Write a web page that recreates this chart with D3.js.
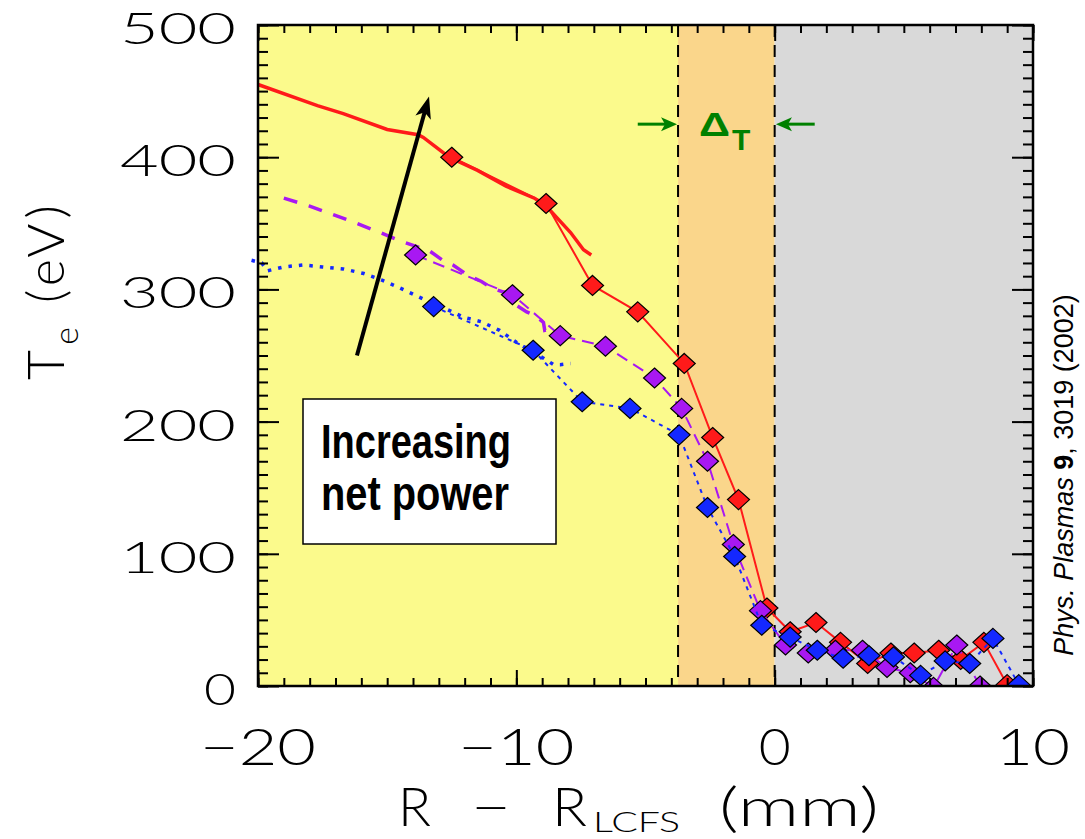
<!DOCTYPE html>
<html>
<head>
<meta charset="utf-8">
<script src="https://cdn.jsdelivr.net/npm/d3@7"></script>
<style>
    body { margin: 0; background: #fff; }
    svg { display: block; }
    .hershey { font-family: Lato, "Open Sans", "DejaVu Sans", sans-serif; font-weight: 300; fill: #000; }
    .boxtext { font-family: "Liberation Sans", Arial, sans-serif; font-weight: bold; }
</style>
</head>
<body>
<div id="chart"></div>
<script>
// axis ranges and labels
const xDomain = [-20, 10];
const yDomain = [0, 500];
const xMajorTicks = [-20, -10, 0, 10];
const yMajorTicks = [0, 100, 200, 300, 400, 500];

// shaded zones: edge of pedestal (delta_T) and LCFS
const zoneEdges = [-20, -3.74, 0, 10];

// thick profiles without markers [R - R_LCFS (mm), Te (eV)]
const redProfile = [[-20.0, 455], [-17.7, 439], [-16.7, 433], [-15.0, 421], [-13.8, 417], [-13.6, 415],
    [-12.6, 400], [-11.5, 390], [-10.4, 378], [-9.3, 369], [-8.8, 362], [-7.9, 343], [-7.4, 330], [-7.1, 326]];
const purpleProfile = [[-19.0, 369], [-18.0, 363], [-16.45, 352], [-15.4, 344], [-14.4, 336], [-13.35, 329],
    [-12.85, 322], [-12.45, 318.5], [-11.9, 311], [-11.35, 306], [-10.95, 301], [-10.5, 298], [-10.0, 288],
    [-9.6, 283], [-9.3, 280.5], [-8.95, 275], [-8.9, 269], [-8.7, 270]];
const blueProfile = [[-20.25, 322], [-19.85, 320], [-19.65, 314], [-19.0, 317], [-18.25, 318.5], [-17.5, 317],
    [-16.7, 315.5], [-15.9, 312], [-15.2, 307], [-14.5, 301], [-13.8, 294.5], [-13.2, 289], [-12.8, 286],
    [-12.05, 279], [-11.35, 275.5], [-10.65, 269], [-10.0, 260], [-9.4, 253], [-8.95, 248], [-8.55, 243],
    [-8.3, 243], [-7.9, 244]];

// measured points (diamonds)
const redPoints = [[-12.5, 400], [-8.85, 365], [-7.05, 303], [-5.3, 283], [-3.5, 244], [-2.4, 188], [-1.4, 141],
    [-0.3, 59], [0.6, 41], [1.6, 48], [2.55, 33], [3.6, 17], [4.5, 25], [5.4, 25], [6.35, 27], [7.2, 20],
    [8.1, 33], [9.0, 1]];
const purplePoints = [[-13.9, 326], [-10.15, 296], [-8.3, 265], [-6.55, 257], [-4.65, 233], [-3.6, 210],
    [-2.6, 170], [-1.6, 107], [-0.55, 57], [0.42, 31], [1.3, 25], [2.35, 27], [3.4, 27], [4.35, 14],
    [5.25, 10], [6.15, -1], [7.05, 31], [7.95, 0]];
const bluePoints = [[-13.2, 287], [-9.35, 254], [-7.45, 215], [-5.6, 210], [-3.7, 190], [-2.6, 135], [-1.55, 98],
    [-0.5, 46], [0.6, 37], [1.65, 27], [2.65, 21], [3.65, 23], [4.6, 22], [5.65, 8], [6.6, 19], [7.55, 17],
    [8.45, 36], [9.45, 1]];

// annotations
const powerArrow = [[-16.17, 250], [-13.38, 446]];
const deltaArrowY = 425;
const deltaArrowLeft = [-5.3, -3.78];
const deltaArrowRight = [1.55, 0.05];

const width = 1085, height = 839;
const plot = {left: 258, top: 25, right: 1033, bottom: 686};

const svg = d3.select("#chart").append("svg")
    .attr("width", width)
    .attr("height", height);

const x = d3.scaleLinear().domain(xDomain).range([plot.left, plot.right]);
const y = d3.scaleLinear().domain(yDomain).range([plot.bottom, plot.top]);

svg.append("clipPath").attr("id", "plotclip")
    .append("rect")
    .attr("x", plot.left).attr("y", plot.top)
    .attr("width", plot.right - plot.left).attr("height", plot.bottom - plot.top);

// zones
const zoneColors = ["#fbfa8c", "#fad68b", "#d9d9d9"];
svg.selectAll(".zone")
    .data(d3.pairs(zoneEdges))
    .enter()
    .append("rect")
    .attr("class", "zone")
    .attr("x", d => x(d[0]))
    .attr("y", plot.top)
    .attr("width", d => x(d[1]) - x(d[0]))
    .attr("height", plot.bottom - plot.top)
    .attr("fill", (d, i) => zoneColors[i]);

svg.selectAll(".zone-line")
    .data(zoneEdges.slice(1, 3))
    .enter()
    .append("line")
    .attr("x1", d => x(d)).attr("x2", d => x(d))
    .attr("y1", plot.top).attr("y2", plot.bottom)
    .attr("stroke", "#000")
    .attr("stroke-width", 2)
    .attr("stroke-dasharray", "12,8");

const line = d3.line().x(d => x(d[0])).y(d => y(d[1]));

function drawSeries(profile, points, color, profileDash, pointDash) {
    svg.append("path")
        .datum(profile)
        .attr("d", line)
        .attr("fill", "none")
        .attr("stroke", color)
        .attr("stroke-width", 3.5)
        .attr("stroke-dasharray", profileDash);

    const g = svg.append("g").attr("clip-path", "url(#plotclip)");
    g.append("path")
        .datum(points)
        .attr("d", line)
        .attr("fill", "none")
        .attr("stroke", color)
        .attr("stroke-width", 2)
        .attr("stroke-dasharray", pointDash);

    g.selectAll(".pt")
        .data(points)
        .enter()
        .append("path")
        .attr("d", "M0,-10L11,0L0,10L-11,0Z")
        .attr("transform", d => `translate(${x(d[0])},${y(d[1])})`)
        .attr("fill", color)
        .attr("stroke", "#000")
        .attr("stroke-width", 1.2);
}

drawSeries(redProfile, redPoints, "#ff1a1a", null, null);
drawSeries(purpleProfile, purplePoints, "#a818f2", "14,12", "12,7");
drawSeries(blueProfile, bluePoints, "#1428ff", "3.5,7", "4,5");

// arrow helper
function arrow(x1, y1, x2, y2, color, w, headLen, headHalf) {
    const ang = Math.atan2(y2 - y1, x2 - x1) * 180 / Math.PI;
    const len = Math.hypot(x2 - x1, y2 - y1);
    const g = svg.append("g").attr("transform", `translate(${x1},${y1}) rotate(${ang})`);
    g.append("line")
        .attr("x1", 0).attr("y1", 0)
        .attr("x2", len - headLen * 0.7).attr("y2", 0)
        .attr("stroke", color).attr("stroke-width", w);
    g.append("path")
        .attr("d", `M${len},0L${len - headLen},${-headHalf}L${len - headLen * 0.75},0L${len - headLen},${headHalf}Z`)
        .attr("fill", color);
}

arrow(x(powerArrow[0][0]), y(powerArrow[0][1]), x(powerArrow[1][0]), y(powerArrow[1][1]), "#000", 4, 22, 8);
arrow(x(deltaArrowLeft[0]), y(deltaArrowY), x(deltaArrowLeft[1]), y(deltaArrowY), "#008000", 3, 16, 7);
arrow(x(deltaArrowRight[0]), y(deltaArrowY), x(deltaArrowRight[1]), y(deltaArrowY), "#008000", 3, 16, 7);

svg.append("text")
    .attr("class", "boxtext")
    .attr("x", 699).attr("y", 136)
    .attr("font-size", 34)
    .attr("textLength", 31).attr("lengthAdjust", "spacingAndGlyphs")
    .attr("fill", "#008000")
    .text("\u0394");
svg.append("text")
    .attr("class", "boxtext")
    .attr("x", 732).attr("y", 150)
    .attr("font-size", 30)
    .attr("fill", "#008000")
    .text("T");

// label box
svg.append("rect")
    .attr("x", 303).attr("y", 399)
    .attr("width", 253).attr("height", 145)
    .attr("fill", "#fff")
    .attr("stroke", "#000")
    .attr("stroke-width", 1.5);
svg.append("text").attr("class", "boxtext")
    .attr("x", 321).attr("y", 458)
    .attr("font-size", 49)
    .attr("textLength", 190).attr("lengthAdjust", "spacingAndGlyphs")
    .text("Increasing");
svg.append("text").attr("class", "boxtext")
    .attr("x", 321).attr("y", 510)
    .attr("font-size", 49)
    .attr("textLength", 188).attr("lengthAdjust", "spacingAndGlyphs")
    .text("net power");

// frame and ticks
function ticks(axis, transform) {
    const g = svg.append("g").attr("transform", transform).call(axis);
    g.select(".domain").remove();
    g.selectAll(".tick line").attr("stroke", "#000").attr("stroke-width", 2);
    return g;
}
const xMinor = d3.range(-20, 11, 1);
const yMinor = d3.range(0, 501, 10);
ticks(d3.axisBottom(x).tickValues(xMinor).tickSizeInner(-8).tickSizeOuter(0).tickFormat(""), `translate(0,${plot.bottom})`);
ticks(d3.axisTop(x).tickValues(xMinor).tickSizeInner(-8).tickSizeOuter(0).tickFormat(""), `translate(0,${plot.top})`);
ticks(d3.axisLeft(y).tickValues(yMinor).tickSizeInner(-10).tickSizeOuter(0).tickFormat(""), `translate(${plot.left},0)`);
ticks(d3.axisRight(y).tickValues(yMinor).tickSizeInner(-10).tickSizeOuter(0).tickFormat(""), `translate(${plot.right},0)`);
ticks(d3.axisTop(x).tickValues(xMajorTicks).tickSizeInner(-16).tickSizeOuter(0).tickFormat(""), `translate(0,${plot.top})`);
ticks(d3.axisBottom(x).tickValues(xMajorTicks).tickSizeInner(-16).tickSizeOuter(0).tickFormat(""), `translate(0,${plot.bottom})`);
ticks(d3.axisLeft(y).tickValues(yMajorTicks).tickSizeInner(-21).tickSizeOuter(0).tickFormat(""), `translate(${plot.left},0)`);
ticks(d3.axisRight(y).tickValues(yMajorTicks).tickSizeInner(-21).tickSizeOuter(0).tickFormat(""), `translate(${plot.right},0)`);

svg.append("rect")
    .attr("x", plot.left).attr("y", plot.top)
    .attr("width", plot.right - plot.left).attr("height", plot.bottom - plot.top)
    .attr("fill", "none")
    .attr("stroke", "#000")
    .attr("stroke-width", 2.5);

// tick labels, wide stroked style
const fmt = d => (d < 0 ? "\u2212" + Math.abs(d) : String(d));
const labelLen = s => 42 * (s.length - 1) + 32;

svg.selectAll(".xlab")
    .data(xMajorTicks)
    .enter()
    .append("text")
    .attr("class", "hershey")
    .attr("x", d => x(d))
    .attr("y", 765)
    .attr("font-size", 52)
    .attr("text-anchor", "middle")
    .attr("textLength", d => labelLen(fmt(d)))
    .attr("lengthAdjust", "spacingAndGlyphs")
    .text(fmt);

svg.selectAll(".ylab")
    .data(yMajorTicks)
    .enter()
    .append("text")
    .attr("class", "hershey")
    .attr("x", 236)
    .attr("y", d => y(d) + 19)
    .attr("font-size", 44)
    .attr("text-anchor", "end")
    .attr("textLength", d => labelLen(fmt(d)))
    .attr("lengthAdjust", "spacingAndGlyphs")
    .text(fmt);

// axis titles
const xt = svg.append("g").attr("class", "hershey").attr("font-size", 54);
xt.append("text").attr("x", 398).attr("y", 826).attr("textLength", 33).attr("lengthAdjust", "spacingAndGlyphs").text("R");
xt.append("text").attr("x", 471).attr("y", 826).attr("textLength", 40).attr("lengthAdjust", "spacingAndGlyphs").text("\u2212");
xt.append("text").attr("x", 552).attr("y", 826).attr("textLength", 35).attr("lengthAdjust", "spacingAndGlyphs").text("R");
xt.append("text").attr("x", 593).attr("y", 832).attr("font-size", 28).attr("textLength", 87).attr("lengthAdjust", "spacingAndGlyphs").text("LCFS");
xt.append("text").attr("x", 719).attr("y", 826).attr("textLength", 160).attr("lengthAdjust", "spacingAndGlyphs").text("(mm)");

const yt = svg.append("text")
    .attr("class", "hershey")
    .attr("transform", "translate(64,290) rotate(-90)")
    .attr("text-anchor", "middle")
    .attr("font-size", 52)
    .attr("letter-spacing", 5);
yt.append("tspan").text("T");
yt.append("tspan").attr("dy", 14).attr("font-size", 34).text("e");
yt.append("tspan").attr("dy", -14).text(" (eV)");

// citation
const cite = svg.append("text")
    .attr("transform", "translate(1073,475) rotate(-90)")
    .attr("text-anchor", "middle")
    .attr("font-family", "'Liberation Sans', Arial, sans-serif")
    .attr("font-size", 27);
cite.append("tspan").attr("font-style", "italic").text("Phys. Plasmas ");
cite.append("tspan").attr("font-weight", "bold").text("9");
cite.append("tspan").text(", 3019 (2002)");
</script>
</body>
</html>
